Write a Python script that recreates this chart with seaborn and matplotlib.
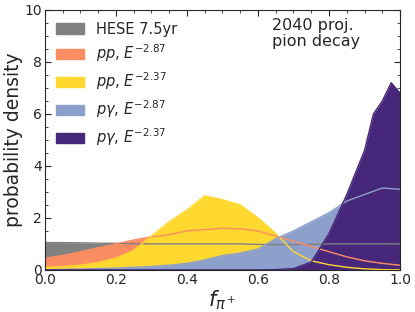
import numpy as np
import pandas as pd
import seaborn as sns
import matplotlib
matplotlib.use("Agg")
import matplotlib.pyplot as plt
from matplotlib.patches import Patch
from matplotlib.ticker import AutoMinorLocator

# f_pi+ grid and read-off densities
f_grid = [0.0, 0.05, 0.1, 0.15, 0.2, 0.25, 0.3, 0.35, 0.4, 0.45, 0.5,
          0.55, 0.6, 0.65, 0.7, 0.75, 0.8, 0.85, 0.9, 0.95, 1.0]
hese = [1.05, 1.05, 1.04, 1.03, 1.02, 1.01, 1.0, 1.0, 1.0, 1.0, 1.0,
        1.0, 0.98, 0.97, 0.97, 0.98, 1.0, 1.0, 1.0, 1.0, 1.0]
pp_287 = [0.45, 0.55, 0.7, 0.85, 1.0, 1.15, 1.27, 1.35, 1.5, 1.55, 1.6,
          1.58, 1.5, 1.3, 1.1, 0.9, 0.7, 0.5, 0.35, 0.25, 0.18]
pp_237 = [0.1, 0.12, 0.18, 0.28, 0.45, 0.75, 1.3, 1.85, 2.3, 2.85, 2.7,
          2.5, 2.0, 1.4, 0.7, 0.35, 0.2, 0.1, 0.04, 0.01, 0.0]
pg_287 = [0.0, 0.02, 0.03, 0.05, 0.07, 0.1, 0.13, 0.18, 0.25, 0.38, 0.55,
          0.65, 0.8, 1.2, 1.5, 1.85, 2.2, 2.65, 2.9, 3.15, 3.1]
pg_237_x = [0.0, 0.6, 0.65, 0.7, 0.75, 0.8, 0.85, 0.9, 0.925, 0.95, 0.975, 1.0]
pg_237 = [0.0, 0.0, 0.01, 0.05, 0.3, 1.4, 2.9, 4.6, 6.0, 6.5, 7.2, 6.8]

labels = ["HESE 7.5yr", "$pp$, $E^{-2.87}$", "$pp$, $E^{-2.37}$",
          "$p\\gamma$, $E^{-2.87}$", "$p\\gamma$, $E^{-2.37}$"]
colors = ["#808080", "#fc8d62", "#ffd92f", "#8da0cb", "#46277a"]

series = [(f_grid, hese), (f_grid, pp_287), (f_grid, pp_237),
          (f_grid, pg_287), (pg_237_x, pg_237)]

sns.set_style("ticks")
plt.rcParams["font.family"] = ["DejaVu Sans"]

fig = plt.figure(figsize=(4.15, 3.12), dpi=100)
ax = fig.add_axes([0.108, 0.135, 0.856, 0.833])

for (x, y), c in zip(series, colors):
    ax.fill_between(x, y, 0, color=c, lw=0)
for (x, y), c in zip(series, colors):
    df = pd.DataFrame({"f": x, "p": y})
    sns.lineplot(data=df, x="f", y="p", color=c, lw=1.0, ax=ax)

ax.set_xlim(0, 1)
ax.set_ylim(0, 10)
ax.set_xticks([0, 0.2, 0.4, 0.6, 0.8, 1.0])
ax.set_yticks([0, 2, 4, 6, 8, 10])
ax.xaxis.set_minor_locator(AutoMinorLocator())
ax.yaxis.set_minor_locator(AutoMinorLocator())
ax.tick_params(which="both", direction="in", top=True, right=True, labelsize=10)
ax.tick_params(which="major", length=4, pad=2)
ax.tick_params(which="minor", length=2)
ax.set_xlabel("$f_{\\pi^+}$", fontsize=15, labelpad=1)
ax.set_ylabel("probability density", fontsize=13.5, labelpad=1)

handles = [Patch(color=c) for c in colors]
ax.legend(handles, labels, loc="upper left", frameon=False, fontsize=10.5,
          handlelength=1.9, handletextpad=0.8, labelspacing=0.42,
          borderaxespad=0.4)
ax.text(0.64, 0.97, "2040 proj.\npion decay", transform=ax.transAxes,
        fontsize=11.5, va="top", ha="left", linespacing=1.1)

fig.savefig("out.png", dpi=100)
